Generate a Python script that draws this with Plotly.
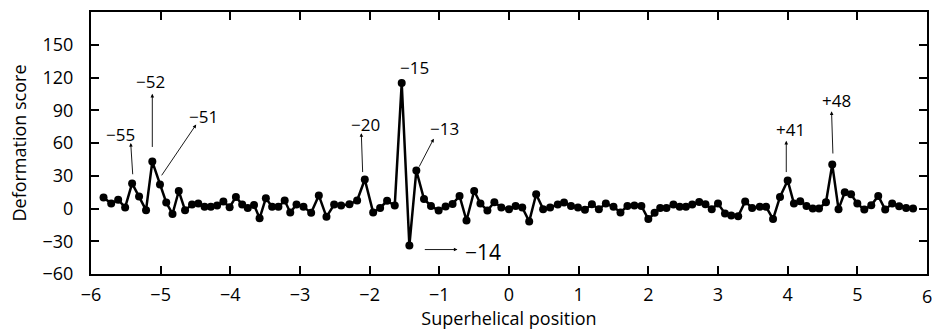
import plotly.graph_objects as go

# base-pair offsets (one point per bp) and their superhelical positions
bp = list(range(-59, 61))
shl = [
    -5.82, -5.71, -5.61, -5.51, -5.41, -5.31, -5.21, -5.12, -5.01, -4.92,
    -4.83, -4.74, -4.65, -4.55, -4.46, -4.37, -4.28, -4.19, -4.10, -4.01,
    -3.92, -3.83, -3.75, -3.66, -3.58, -3.49, -3.40, -3.31, -3.22, -3.14,
    -3.05,
    -2.95, -2.84, -2.73, -2.62, -2.51, -2.41, -2.29, -2.18, -2.07, -1.95,
    -1.85, -1.75, -1.64, -1.54, -1.43, -1.33, -1.22, -1.12, -1.01, -0.91,
    -0.81, -0.71, -0.61, -0.50, -0.41, -0.31, -0.21, -0.11, 0.00,
    0.095, 0.19, 0.29, 0.39, 0.49, 0.59, 0.70, 0.79, 0.89, 0.99,
    1.09, 1.19, 1.29, 1.39, 1.50, 1.60, 1.70, 1.80, 1.90, 2.00,
    2.09, 2.17, 2.26, 2.36, 2.45, 2.54, 2.63, 2.73, 2.82, 2.91,
    3.00,
    3.10, 3.19, 3.29, 3.39, 3.49, 3.60, 3.69, 3.79, 3.89, 4.00,
    4.09, 4.18, 4.27, 4.36, 4.45, 4.55, 4.64, 4.73, 4.82, 4.91,
    5.00, 5.10, 5.20, 5.30, 5.40, 5.50, 5.60, 5.70, 5.80,
]
score = [
    10, 4.5, 8, 1, 23, 11, -1.5, 43, 22, 5.5,
    -5, 16, -1.5, 3.6, 4.5, 1.5, 1.5, 2.7, 6.4, 1.2,
    10.6, 3.6, 0.5, 3.3, -9, 9.4, 1.5, 1.5, 7.3, -3.6,
    3.6,
    1.5, -4, 12, -7.6, 3.6, 2.7, 3.9, 7.3, 26.6, -3.6,
    0.5, 7, 2.7, 115, -34, 34.8, 8.7, 2.4, -1.8, 1.8,
    4.2, 11.5, -11, 16, 4.5, -1.8, 5.7, 1, -0.6,
    2.4, 0.9, -11.8, 13, -0.6, 0.9, 3.6, 5.5, 2.4, 0.9,
    -1.2, 3.9, -0.6, 4.5, 1.5, -3.6, 2.4, 2.7, 2.4, -9.7,
    -4, 0.5, 0.5, 3.6, 1.5, 1.5, 3.6, 6, 3.9, -0.6,
    4.5,
    -4.5, -6.4, -7, 6.4, 0.5, 1.5, 1.5, -9.7, 10.6, 25.7,
    4.5, 6.6, 2.4, 0, 0, 5.7, 40.3, -0.6, 14.8, 13,
    4.5, -1, 3, 11.5, -1, 4.5, 2, 0.5, 0,
]

x_ticks = [-6, -5, -4, -3, -2, -1, 0, 1, 2, 3, 4, 5, 6]
x_tick_text = ["\u22126", "\u22125", "\u22124", "\u22123", "\u22122", "\u22121",
               "0", "1", "2", "3", "4", "5", "6"]
y_ticks = [-60, -30, 0, 30, 60, 90, 120, 150]
y_tick_text = ["\u221260", "\u221230", "0", "30", "60", "90", "120", "150"]

# labelled peaks: text, label position, arrow tail, arrow head (data coords)
peak_labels = ["\u221255", "\u221252", "\u221251", "\u221220", "\u221213", "+41", "+48"]
label_pos = [(-5.57, 68), (-5.15, 116), (-4.38, 84), (-2.06, 77), (-0.93, 73), (4.04, 72), (4.70, 99)]
arrow_tail = [(-5.40, 30), (-5.12, 55), (-5.00, 29), (-2.10, 32), (-1.30, 37), (3.98, 32), (4.65, 49)]
arrow_head = [(-5.43, 60), (-5.12, 105), (-4.49, 77), (-2.12, 69), (-1.08, 64), (3.98, 62), (4.63, 89)]

FONT = "Open Sans"

fig = go.Figure()
fig.add_trace(go.Scatter(
    x=shl, y=score, mode="lines+markers",
    line=dict(color="black", width=2.5),
    marker=dict(color="black", size=8),
    hoverinfo="skip", showlegend=False,
))

annotations = []
for txt, (lx, ly), (tx, ty), (hx, hy) in zip(peak_labels, label_pos, arrow_tail, arrow_head):
    annotations.append(dict(
        x=hx, y=hy, ax=tx, ay=ty, xref="x", yref="y", axref="x", ayref="y",
        text="", showarrow=True, arrowhead=2, arrowsize=0.8, arrowwidth=0.9,
        arrowcolor="black", standoff=0, startstandoff=0,
    ))
    annotations.append(dict(
        x=lx, y=ly, xref="x", yref="y", text=txt, showarrow=False,
        font=dict(family=FONT, size=17, color="black"),
    ))

# -15 label (no arrow)
annotations.append(dict(x=-1.36, y=129, xref="x", yref="y", text="\u221215",
                        showarrow=False, font=dict(family=FONT, size=17, color="black")))
# -14 with horizontal arrow, larger label
annotations.append(dict(x=-0.74, y=-37.6, ax=-1.23, ay=-37.6, xref="x", yref="y",
                        axref="x", ayref="y", text="", showarrow=True, arrowhead=2,
                        arrowsize=0.8, arrowwidth=0.9, arrowcolor="black",
                        standoff=0, startstandoff=0))
annotations.append(dict(x=-0.37, y=-40, xref="x", yref="y", text="\u221214",
                        showarrow=False, font=dict(family=FONT, size=21, color="black")))
# last x tick label, partly cut by the right edge as in the original
annotations.append(dict(x=x_ticks[-1], y=0, xref="x", yref="paper", yanchor="top",
                        yshift=-8, text=x_tick_text[-1], showarrow=False,
                        font=dict(family=FONT, size=18, color="black")))

axis_common = dict(
    showgrid=False, zeroline=False, showline=True, linecolor="black", linewidth=2,
    mirror="ticks", ticks="inside", ticklen=8, tickwidth=1.5, tickcolor="black",
    tickfont=dict(family=FONT, size=18, color="black"),
)

fig.update_layout(
    width=932, height=335,
    margin=dict(l=91, r=3, t=12, b=61),
    paper_bgcolor="white", plot_bgcolor="white",
    xaxis=dict(range=[-6, 6], tickvals=x_ticks, ticktext=x_tick_text,
               title=dict(text="Superhelical position", font=dict(family=FONT, size=18, color="black"),
                          standoff=4),
               ticklabelstandoff=3, **axis_common),
    yaxis=dict(range=[-60, 180], tickvals=y_ticks, ticktext=y_tick_text,
               title=dict(text="Deformation score", font=dict(family=FONT, size=18, color="black"),
                          standoff=11),
               ticklabelstandoff=12, **axis_common),
    annotations=annotations,
)

fig.write_html(
    "out.html",
    config={"displayModeBar": False},
    post_script="document.body.style.margin='0';document.body.style.overflow='hidden';",
)
